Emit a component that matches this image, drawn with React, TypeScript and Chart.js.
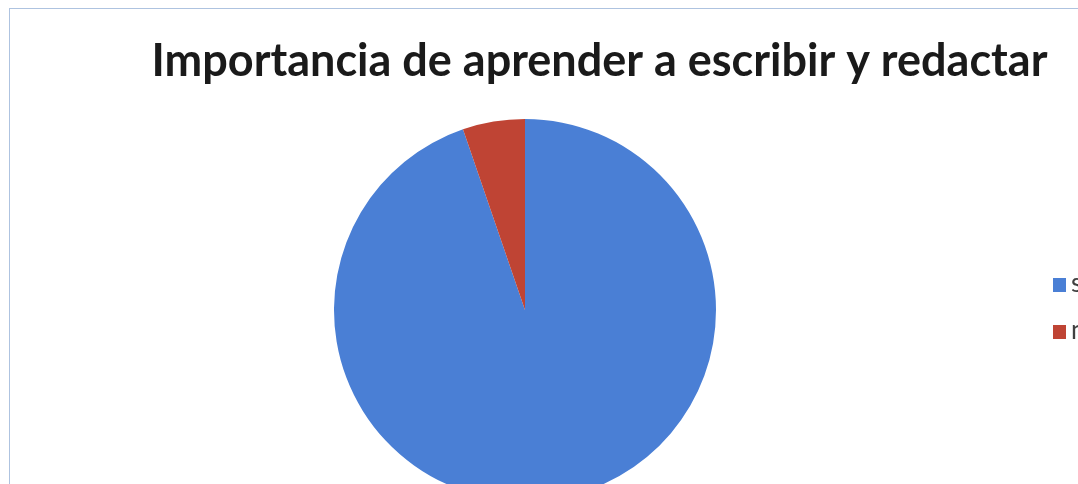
import React, { useEffect, useRef } from "react";
import { Chart, registerables } from "chart.js";

Chart.register(...registerables);

const titleText = "Importancia de aprender a escribir y redactar";
const categories = ["si", "no"];
const seriesValues = [18, 1];
const sliceColors = ["#4A7FD5", "#BF4434"];

// Reserves a legend column on the right (like a right-hand legend) and draws it.
const customLegend = {
  id: "customLegend",
  afterLayout(chart: any) {
    chart.chartArea.right = 1030;
    chart.chartArea.width = chart.chartArea.right - chart.chartArea.left;
  },
  afterDraw(chart: any) {
    const ctx = chart.ctx;
    const labels = chart.data.labels as string[];
    const colors = chart.data.datasets[0].backgroundColor as string[];
    const x = 1043;
    const startY = 269;
    const gap = 47;
    ctx.save();
    ctx.font = "26px Lato";
    ctx.textBaseline = "middle";
    labels.forEach((lab, i) => {
      const y = startY + i * gap;
      ctx.fillStyle = colors[i];
      ctx.fillRect(x, y, 13, 14);
      ctx.fillStyle = "#404040";
      ctx.fillText(lab, x + 18, y + 6);
    });
    ctx.restore();
  },
};

export default function App() {
  const ref = useRef<HTMLCanvasElement>(null);
  useEffect(() => {
    document.body.style.overflow = "hidden";
    document.documentElement.style.overflow = "hidden";
    if (!ref.current) return;
    const chart = new Chart(ref.current, {
      type: "pie",
      data: {
        labels: categories,
        datasets: [
          {
            data: seriesValues,
            backgroundColor: sliceColors,
            borderWidth: 0,
          },
        ],
      },
      options: {
        responsive: false,
        animation: false,
        layout: { padding: { left: 0, right: 0, top: 0, bottom: 8 } },
        plugins: {
          legend: { display: false },
          tooltip: { enabled: false },
          title: {
            display: true,
            text: titleText,
            color: "#1a1a1a",
            font: { family: "Lato", size: 45, weight: "bold" },
            padding: { top: 25, bottom: 31 },
          },
        },
      },
      plugins: [customLegend],
    });
    return () => chart.destroy();
  }, []);
  return (
    <div
      style={{
        position: "fixed",
        top: 8,
        left: 8,
        width: 1070,
        height: 476,
        overflow: "hidden",
        background: "#fff",
      }}
    >
      <div
        style={{
          marginLeft: 1,
          width: 1179,
          height: 500,
          border: "1px solid #aec3e0",
          background: "#fff",
        }}
      >
        <canvas ref={ref} width={1179} height={500} style={{ display: "block" }} />
      </div>
    </div>
  );
}
